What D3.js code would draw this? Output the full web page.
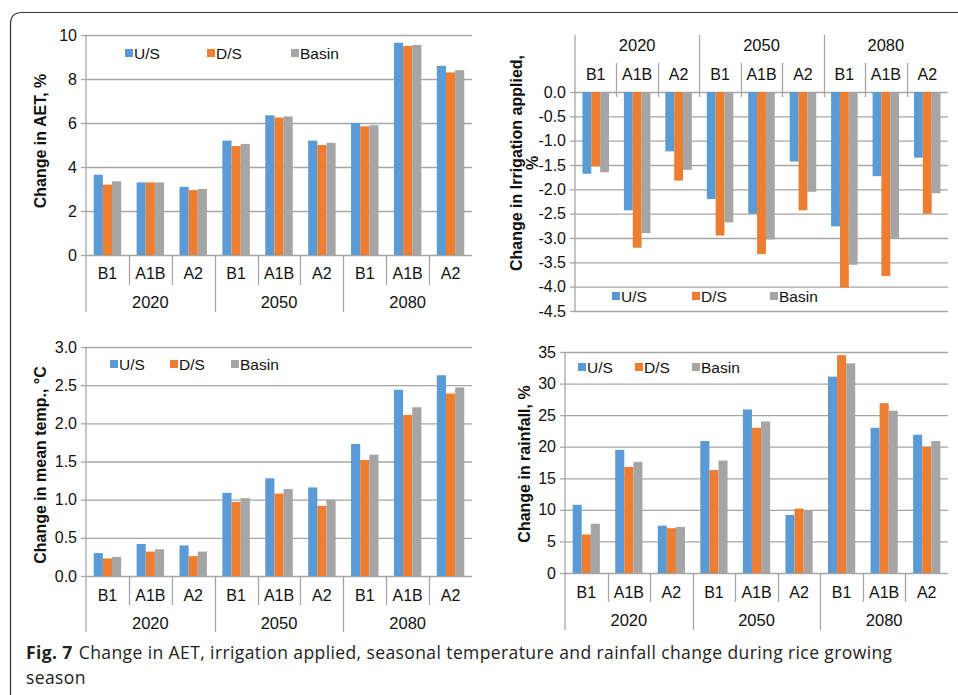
<!DOCTYPE html>
<html>
<head>
<meta charset="utf-8">
<script src="https://cdn.jsdelivr.net/npm/d3@7"></script>
<style>
  body { margin: 0; background: #fff; }
  svg { display: block; font-family: "Liberation Sans", Arial, sans-serif; }
</style>
</head>
<body>
<div id="chart-area"></div>
<script>
// categories
var years = ["2020", "2050", "2080"];
var scenarios = ["B1", "A1B", "A2"];
var series = ["U/S", "D/S", "Basin"];
var colors = ["#5b9bd5", "#ed7d31", "#a5a5a5"];

// change in AET, % (order: 2020 B1,A1B,A2, 2050 ..., 2080 ...)
var aetUS    = [3.65, 3.3, 3.1, 5.2, 6.35, 5.2, 6.0, 9.65, 8.6];
var aetDS    = [3.2, 3.3, 2.95, 4.95, 6.25, 5.0, 5.85, 9.5, 8.3];
var aetBasin = [3.35, 3.3, 3.0, 5.05, 6.3, 5.1, 5.9, 9.55, 8.4];
var aetTicks = [0, 2, 4, 6, 8, 10];

// change in irrigation applied, %
var irrUS    = [-1.68, -2.43, -1.22, -2.2, -2.5, -1.43, -2.76, -1.73, -1.35];
var irrDS    = [-1.53, -3.2, -1.82, -2.95, -3.33, -2.43, -4.02, -3.78, -2.5];
var irrBasin = [-1.65, -2.9, -1.6, -2.68, -3.03, -2.05, -3.55, -3.0, -2.08];
var irrTicks = [0, -0.5, -1, -1.5, -2, -2.5, -3, -3.5, -4, -4.5];

// change in mean temp, °C
var tmpUS    = [0.3, 0.42, 0.4, 1.09, 1.28, 1.16, 1.73, 2.44, 2.63];
var tmpDS    = [0.23, 0.32, 0.26, 0.97, 1.08, 0.92, 1.52, 2.11, 2.39];
var tmpBasin = [0.25, 0.35, 0.32, 1.02, 1.14, 1.0, 1.59, 2.21, 2.47];
var tmpTicks = [0, 0.5, 1, 1.5, 2, 2.5, 3];

// change in rainfall, %
var rainUS    = [10.8, 19.5, 7.5, 20.9, 25.9, 9.2, 31.1, 23.0, 21.9];
var rainDS    = [6.1, 16.8, 7.1, 16.3, 23.0, 10.2, 34.5, 26.9, 20.0];
var rainBasin = [7.8, 17.6, 7.3, 17.8, 24.0, 9.9, 33.2, 25.7, 20.9];
var rainTicks = [0, 5, 10, 15, 20, 25, 30, 35];

var W = 958, H = 695;
var grid = "#a6a6a6";

var svg = d3.select("#chart-area").append("svg")
    .attr("width", W)
    .attr("height", H);

// figure frame (rounded top-left corner)
svg.append("path")
    .attr("d", "M10.5,695 L10.5,24 Q10.5,12.5 22,12.5 L958,12.5")
    .attr("fill", "none")
    .attr("stroke", "#333")
    .attr("stroke-width", 1.2);

var cats = [];
years.forEach(function(y) {
    scenarios.forEach(function(s) { cats.push(y + "|" + s); });
});

function drawPanel(p) {
    var g = svg.append("g");
    var data = cats.map(function(c, i) {
        return { cat: c, vals: [p.us[i], p.ds[i], p.basin[i]] };
    });

    var x0 = d3.scaleBand()
        .domain(cats)
        .range([p.left, p.right])
        .paddingInner(0.36)
        .paddingOuter(0.18);
    var x1 = d3.scaleBand()
        .domain(series)
        .range([0, x0.bandwidth()]);
    var y = d3.scaleLinear()
        .domain(p.domain)
        .range([p.y0, p.y1]);
    var step = x0.step();

    // gridlines + tick labels
    var yAxis = d3.axisLeft(y)
        .tickValues(p.ticks)
        .tickSize(-(p.right - p.left))
        .tickPadding(9)
        .tickFormat(p.fmt);
    var ga = g.append("g")
        .attr("class", "y axis")
        .attr("transform", "translate(" + p.left + ",0)")
        .call(yAxis);
    ga.select(".domain").remove();
    ga.selectAll("line").attr("stroke", grid).attr("stroke-width", 1.3);
    ga.selectAll("text")
        .attr("font-size", "16px")
        .attr("fill", "#111")
        .attr("font-family", "Liberation Sans, Arial, sans-serif");
    ga.selectAll(".tick").append("line")
        .attr("x1", -5).attr("x2", 0)
        .attr("stroke", grid).attr("stroke-width", 1.3);

    // bars
    var groups = g.selectAll(".cat")
        .data(data)
        .enter()
        .append("g")
        .attr("transform", function(d) { return "translate(" + x0(d.cat) + ",0)"; });
    groups.selectAll("rect")
        .data(function(d) { return d.vals.map(function(v, i) { return { s: series[i], v: v, i: i }; }); })
        .enter()
        .append("rect")
        .attr("x", function(d) { return x1(d.s); })
        .attr("width", x1.bandwidth())
        .attr("y", function(d) { return Math.min(y(d.v), y(0)); })
        .attr("height", function(d) { return Math.abs(y(d.v) - y(0)); })
        .attr("fill", function(d) { return colors[d.i]; });

    // category table
    g.append("line")
        .attr("x1", p.left).attr("x2", p.left)
        .attr("y1", p.axisTop).attr("y2", p.axisBottom)
        .attr("stroke", grid).attr("stroke-width", 1.3);
    cats.forEach(function(c, i) {
        if (i === 0) return;
        var xb = Math.round(p.left + i * step) + 0.5;
        var isGroup = i % 3 === 0;
        g.append("line")
            .attr("x1", xb).attr("x2", xb)
            .attr("y1", isGroup ? p.groupEdge : p.catEdge)
            .attr("y2", p.catBase)
            .attr("stroke", grid).attr("stroke-width", 1.3);
    });

    g.selectAll(".catlab")
        .data(cats)
        .enter()
        .append("text")
        .attr("x", function(d) { return x0(d) + x0.bandwidth() / 2; })
        .attr("y", p.catY)
        .attr("text-anchor", "middle")
        .attr("font-size", "16px")
        .attr("fill", "#111")
        .text(function(d) { return d.split("|")[1]; });

    g.selectAll(".yearlab")
        .data(years)
        .enter()
        .append("text")
        .attr("x", function(d, i) { return p.left + (i * 3 + 1.5) * step; })
        .attr("y", p.yearY)
        .attr("text-anchor", "middle")
        .attr("font-size", "16.5px")
        .attr("fill", "#111")
        .text(function(d) { return d; });

    // axis title
    var t = g.append("text")
        .attr("transform", "translate(" + p.titleX + "," + p.titleY + ") rotate(-90)")
        .attr("text-anchor", "middle")
        .attr("font-size", "16px")
        .attr("font-weight", "bold")
        .attr("fill", "#111");
    p.title.forEach(function(line, i) {
        t.append("tspan")
            .attr("x", 0)
            .attr("dy", i === 0 ? 0 : 16)
            .text(line);
    });

    // legend
    series.forEach(function(s, i) {
        var lx = p.legend[i];
        g.append("rect")
            .attr("x", lx).attr("y", p.legendY - 4)
            .attr("width", 8).attr("height", 8)
            .attr("fill", colors[i]);
        g.append("text")
            .attr("x", lx + 9)
            .attr("y", p.legendY + 5.5)
            .attr("font-size", "15.5px")
            .attr("fill", "#111")
            .text(s);
    });
}

var f0 = function(d) { return d.toFixed(0); };
var f1 = function(d) { return d.toFixed(1); };

drawPanel({
    us: aetUS, ds: aetDS, basin: aetBasin, ticks: aetTicks, fmt: f0,
    domain: [0, 10], left: 86, right: 472, y0: 255, y1: 35,
    axisTop: 35, axisBottom: 312, catBase: 255,
    catEdge: 285, groupEdge: 312, catY: 279, yearY: 308,
    title: ["Change in AET, %"], titleX: 46, titleY: 141,
    legend: [125, 207, 291], legendY: 53
});

drawPanel({
    us: irrUS, ds: irrDS, basin: irrBasin, ticks: irrTicks, fmt: f1,
    domain: [0, -4.5], left: 575, right: 948, y0: 92, y1: 311,
    axisTop: 35, axisBottom: 311, catBase: 97,
    catEdge: 63, groupEdge: 35, catY: 80, yearY: 51,
    title: ["Change in Irrigation applied,", "%"], titleX: 522, titleY: 163,
    legend: [612, 692, 770], legendY: 296
});

drawPanel({
    us: tmpUS, ds: tmpDS, basin: tmpBasin, ticks: tmpTicks, fmt: f1,
    domain: [0, 3], left: 86, right: 472, y0: 576, y1: 347,
    axisTop: 347, axisBottom: 632, catBase: 576,
    catEdge: 605, groupEdge: 632, catY: 601, yearY: 629,
    title: ["Change in mean temp., \u00b0C"], titleX: 46, titleY: 465,
    legend: [110, 170, 231], legendY: 364
});

drawPanel({
    us: rainUS, ds: rainDS, basin: rainBasin, ticks: rainTicks, fmt: f0,
    domain: [0, 35], left: 565, right: 948, y0: 573, y1: 352,
    axisTop: 352, axisBottom: 630, catBase: 573,
    catEdge: 602, groupEdge: 630, catY: 598, yearY: 626,
    title: ["Change in rainfall, %"], titleX: 530, titleY: 464,
    legend: [578, 635, 692], legendY: 367
});

// caption
var cap = svg.append("text")
    .attr("x", 26)
    .attr("y", 659)
    .attr("font-family", "Open Sans, sans-serif")
    .attr("font-size", "17.5px")
    .attr("letter-spacing", "0.4px")
    .attr("fill", "#222");
cap.append("tspan").attr("font-weight", "bold").text("Fig. 7");
cap.append("tspan").attr("dx", 6).text("Change in AET, irrigation applied, seasonal temperature and rainfall change during rice growing");
svg.append("text")
    .attr("x", 26)
    .attr("y", 684)
    .attr("font-family", "Open Sans, sans-serif")
    .attr("font-size", "17.5px")
    .attr("letter-spacing", "0.4px")
    .attr("fill", "#222")
    .text("season");
</script>
</body>
</html>
